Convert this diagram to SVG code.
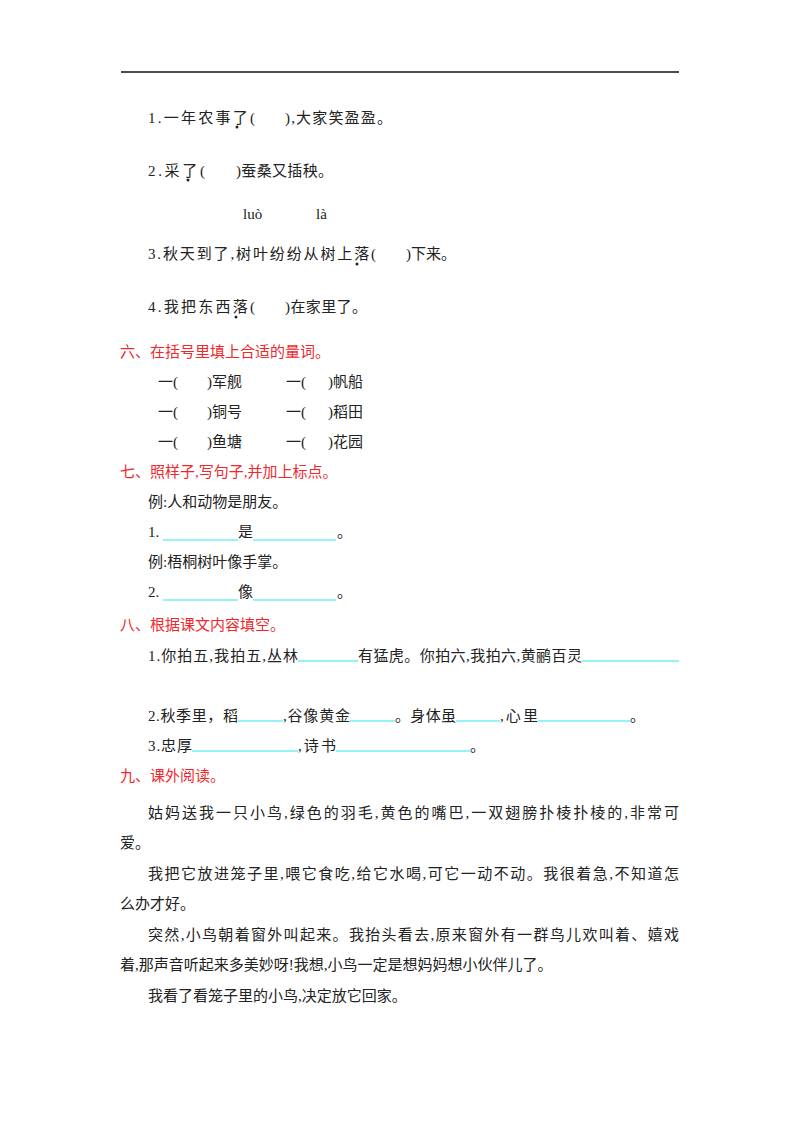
<svg xmlns="http://www.w3.org/2000/svg" width="800" height="1132" viewBox="0 0 800 1132">
<style>
text{font-family:"Liberation Serif","Noto Sans CJK SC",serif;font-size:15px;fill:#222}
.r{fill:#f0282d}
.b{stroke:#2ee6f0;stroke-width:1.2}
</style>
<rect width="800" height="1132" fill="#fff"/>
<line x1="121" y1="72" x2="679" y2="72" stroke="#111" stroke-width="1.5"/>
<g id="q5">
<text x="148" y="123" textLength="107">1.一年农事了(</text><text x="285" y="123" textLength="107">),大家笑盈盈。</text>
<text x="148" y="176" textLength="57">2.采了(</text><text x="236" y="176" textLength="97">)蚕桑又插秧。</text>
<text x="243" y="219">luò</text><text x="316" y="219">là</text>
<text x="148" y="259" textLength="228">3.秋天到了,树叶纷纷从树上落(</text><text x="406" y="259" textLength="50">)下来。</text>
<text x="148" y="312" textLength="107">4.我把东西落(</text><text x="285" y="312" textLength="82">)在家里了。</text>
<circle cx="237" cy="127" r="1.5" fill="#222"/>
<circle cx="188" cy="180" r="1.5" fill="#222"/>
<circle cx="357" cy="264" r="1.5" fill="#222"/>
<circle cx="236" cy="317" r="1.5" fill="#222"/>
</g>
<g id="q6">
<text class="r" x="120" y="357">六、在括号里填上合适的量词。</text>
<text x="158" y="387">一(</text><text x="207" y="387">)军舰</text><text x="286" y="387">一(</text><text x="328" y="387">)帆船</text>
<text x="158" y="417">一(</text><text x="207" y="417">)铜号</text><text x="286" y="417">一(</text><text x="328" y="417">)稻田</text>
<text x="158" y="447">一(</text><text x="207" y="447">)鱼塘</text><text x="286" y="447">一(</text><text x="328" y="447">)花园</text>
</g>
<g id="q7">
<text class="r" x="120" y="477">七、照样子,写句子,并加上标点。</text>
<text x="148" y="507">例:人和动物是朋友。</text>
<text x="148" y="537">1.</text><line class="b" x1="163" y1="540" x2="238" y2="540"/><text x="238" y="537">是</text><line class="b" x1="253" y1="540" x2="336" y2="540"/><text x="337" y="537">。</text>
<text x="148" y="567">例:梧桐树叶像手掌。</text>
<text x="148" y="597">2.</text><line class="b" x1="163" y1="600" x2="238" y2="600"/><text x="238" y="597">像</text><line class="b" x1="253" y1="600" x2="336" y2="600"/><text x="337" y="597">。</text>
</g>
<g id="q8">
<text class="r" x="120" y="630">八、根据课文内容填空。</text>
<text x="148" y="661" textLength="150">1.你拍五,我拍五,丛林</text><line class="b" x1="298" y1="661" x2="358" y2="661"/>
<text x="358" y="661" textLength="224">有猛虎。你拍六,我拍六,黄鹂百灵</text><line class="b" x1="582" y1="661" x2="679" y2="661"/>
<text x="148" y="721" textLength="90">2.秋季里，稻</text><line class="b" x1="238" y1="721" x2="283" y2="721"/>
<text x="283" y="721" textLength="67">,谷像黄金</text><line class="b" x1="350" y1="721" x2="395" y2="721"/>
<text x="395" y="721" textLength="61">。身体虽</text><line class="b" x1="456" y1="721" x2="500" y2="721"/>
<text x="500" y="721" textLength="38">,心里</text><line class="b" x1="538" y1="721" x2="630" y2="721"/><text x="630" y="721">。</text>
<text x="148" y="751" textLength="44">3.忠厚</text><line class="b" x1="192" y1="751" x2="298" y2="751"/>
<text x="298" y="751" textLength="38">,诗书</text><line class="b" x1="336" y1="751" x2="470" y2="751"/><text x="470" y="751">。</text>
</g>
<g id="q9">
<text class="r" x="120" y="781">九、课外阅读。</text>
<text x="148" y="818" textLength="531">姑妈送我一只小鸟,绿色的羽毛,黄色的嘴巴,一双翅膀扑棱扑棱的,非常可</text>
<text x="120" y="848">爱。</text>
<text x="148" y="879" textLength="531">我把它放进笼子里,喂它食吃,给它水喝,可它一动不动。我很着急,不知道怎</text>
<text x="120" y="909">么办才好。</text>
<text x="148" y="940" textLength="531">突然,小鸟朝着窗外叫起来。我抬头看去,原来窗外有一群鸟儿欢叫着、嬉戏</text>
<text x="120" y="970">着,那声音听起来多美妙呀!我想,小鸟一定是想妈妈想小伙伴儿了。</text>
<text x="148" y="1001">我看了看笼子里的小鸟,决定放它回家。</text>
</g>
</svg>
